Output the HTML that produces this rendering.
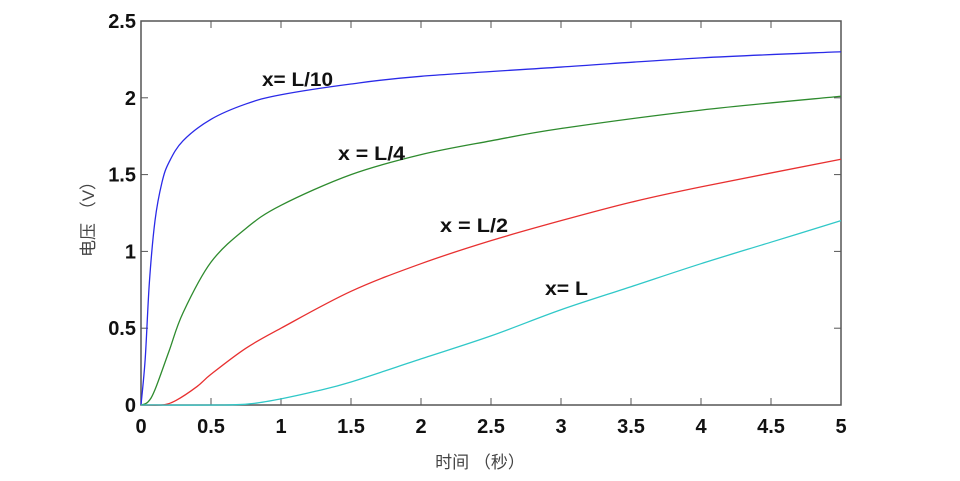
<!DOCTYPE html>
<html><head><meta charset="utf-8"><style>
body{margin:0;background:#fff;}
svg text{font-family:"Liberation Sans","Noto Sans CJK SC",sans-serif;}
</style></head><body>
<svg id="s" width="960" height="476" xmlns="http://www.w3.org/2000/svg">
<rect x="141" y="21" width="700" height="384" fill="#fff" stroke="#555" stroke-width="1.5"/>
<g id="ticks" stroke="#555" stroke-width="1"></g>
<g id="lab" font-size="20" font-weight="bold" fill="#111"></g>
<g id="curves" fill="none" stroke-width="1.3"></g>
<g font-size="19" font-weight="bold" fill="#111">
<text x="262" y="86" textLength="71" lengthAdjust="spacingAndGlyphs">x= L/10</text>
<text x="338" y="160" textLength="67" lengthAdjust="spacingAndGlyphs">x = L/4</text>
<text x="440" y="232" textLength="68" lengthAdjust="spacingAndGlyphs">x = L/2</text>
<text x="545" y="295" textLength="43" lengthAdjust="spacingAndGlyphs">x= L</text>
</g>
<text x="480" y="468" text-anchor="middle" font-size="17" fill="#444">时间 （秒）</text>
<text transform="translate(94,215) rotate(-90)" text-anchor="middle" font-size="17" fill="#444">电压 （V）</text>
</svg>
<script>
var X=t=>141+t*140, Y=v=>405-v*153.6, ns="http://www.w3.org/2000/svg";
function el(p,n,a,txt){var e=document.createElementNS(ns,n);for(var k in a)e.setAttribute(k,a[k]);if(txt!==undefined)e.textContent=txt;document.getElementById(p).appendChild(e);}
for(var i=0;i<=10;i++){var t=i*0.5,x=X(t);
 if(i>0&&i<10){el("ticks","line",{x1:x,y1:405,x2:x,y2:398});el("ticks","line",{x1:x,y1:21,x2:x,y2:28});}
 el("lab","text",{x:x,y:433,"text-anchor":"middle"},String(t));}
for(var i=0;i<=5;i++){var v=i*0.5,y=Y(v);
 if(i>0&&i<5){el("ticks","line",{x1:141,y1:y,x2:148,y2:y});el("ticks","line",{x1:841,y1:y,x2:834,y2:y});}
 el("lab","text",{x:136,y:y+7,"text-anchor":"end"},String(v));}
var C=[["#2a2ae8",[[0,0],[0.03,0.3],[0.06,0.8],[0.1,1.2],[0.15,1.45],[0.2,1.58],[0.3,1.72],[0.5,1.86],[0.75,1.96],[1,2.02],[1.5,2.09],[2,2.14],[3,2.2],[4,2.26],[5,2.3]]],
["#2e8b2e",[[0,0],[0.05,0.02],[0.1,0.1],[0.2,0.35],[0.3,0.6],[0.5,0.93],[0.75,1.15],[1,1.3],[1.5,1.5],[2,1.63],[2.5,1.72],[3,1.8],[4,1.92],[5,2.01]]],
["#e83030",[[0,0],[0.15,0],[0.25,0.03],[0.4,0.12],[0.5,0.2],[0.75,0.37],[1,0.5],[1.5,0.74],[2,0.92],[2.5,1.07],[3,1.2],[3.5,1.32],[4,1.42],[5,1.6]]],
["#30c8c8",[[0,0],[0.6,0],[0.8,0.01],[1,0.04],[1.25,0.09],[1.5,0.15],[2,0.3],[2.5,0.45],[3,0.62],[3.5,0.77],[4,0.92],[4.5,1.06],[5,1.2]]]];
C.forEach(function(c){var p=c[1].map(q=>[X(q[0]),Y(q[1])]);var d="M"+p[0];
 for(var i=0;i<p.length-1;i++){var p0=p[Math.max(i-1,0)],p1=p[i],p2=p[i+1],p3=p[Math.min(i+2,p.length-1)];
  d+=" C"+(p1[0]+(p2[0]-p0[0])/6)+","+(p1[1]+(p2[1]-p0[1])/6)+" "+(p2[0]-(p3[0]-p1[0])/6)+","+(p2[1]-(p3[1]-p1[1])/6)+" "+p2;}
 el("curves","path",{d:d,stroke:c[0]});});
</script>
</body></html>
